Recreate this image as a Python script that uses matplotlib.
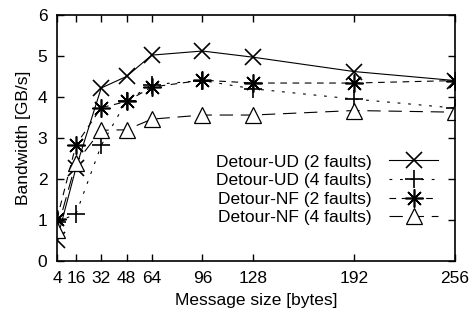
import numpy as np
import matplotlib
matplotlib.use('Agg')
import matplotlib.pyplot as plt

plt.rcParams['font.family'] = ['Liberation Sans', 'DejaVu Sans']

# message sizes and measured bandwidth
sizes = [4, 16, 32, 48, 64, 96, 128, 192, 256]
ud2 = [0.52, 2.27, 4.22, 4.5, 5.02, 5.12, 4.97, 4.62, 4.4]
ud4 = [0.95, 1.15, 2.82, 3.9, 4.3, 4.4, 4.2, 3.95, 3.73]
nf2 = [1.03, 2.83, 3.74, 3.89, 4.24, 4.41, 4.34, 4.34, 4.4]
nf4 = [0.75, 2.4, 3.19, 3.2, 3.46, 3.56, 3.56, 3.67, 3.63]
labels = ['Detour-UD (2 faults)', 'Detour-UD (4 faults)',
          'Detour-NF (2 faults)', 'Detour-NF (4 faults)']

fig = plt.figure(figsize=(4.75, 3.24), dpi=100)
ax = fig.add_axes([0.12, 0.194, 0.838, 0.76])

lw = 0.8
mew = 1.2
ax.plot(sizes, ud2, color='black', lw=lw, ls='-', marker='x', ms=12,
        mew=mew, label=labels[0])
ax.plot(sizes, ud4, color='black', lw=lw, ls=(0, (2.5, 7)), marker='+', ms=13,
        mew=mew, label=labels[1])
ax.plot(sizes, nf2, color='black', lw=lw, ls=(0, (6, 5)), marker=(8, 2, 0), ms=13,
        mew=mew, label=labels[2])
ax.plot(sizes, nf4, color='black', lw=lw, ls=(0, (12, 7)), marker='^', ms=11,
        mfc='white', mew=0.9, label=labels[3])

ax.set_xlim(4, 256)
ax.set_ylim(0, 6)
ax.set_xticks(sizes)
ax.set_yticks(range(0, 7))
ax.tick_params(direction='in', length=5, width=1, labelsize=12.5,
               top=True, right=True, pad=7)
for s in ax.spines.values():
    s.set_linewidth(1.2)

ax.set_xlabel('Message size [bytes]', fontsize=12.5, labelpad=5)
ax.set_ylabel('Bandwidth [GB/s]', fontsize=12.5, labelpad=5)

ax.legend(loc='lower right', bbox_to_anchor=(0.957, 0.145), frameon=False,
          markerfirst=False, fontsize=12.5, handlelength=2.8, handletextpad=1.0,
          labelspacing=0.2, borderpad=0, borderaxespad=0)

fig.savefig('out.png', dpi=100)
